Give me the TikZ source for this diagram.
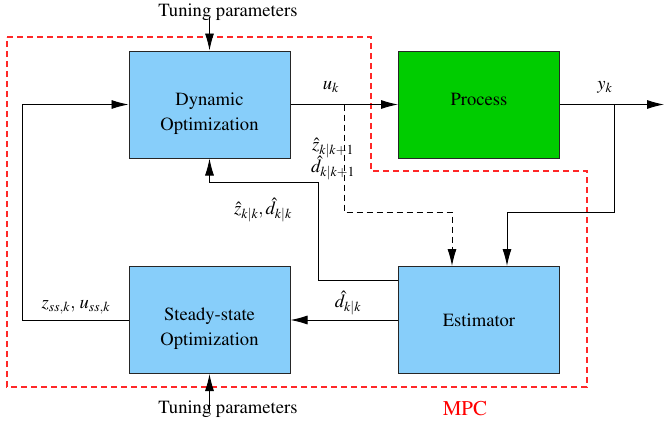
\documentclass[tikz,border=0pt]{standalone}
\usepackage[T1]{fontenc}
\usepackage{mathptmx}
\usetikzlibrary{arrows.meta}
\definecolor{boxblue}{HTML}{87CEFA}
\definecolor{procgreen}{HTML}{00CC00}
\definecolor{mpcline}{RGB}{255,40,40}
\begin{document}
\begin{tikzpicture}[x=1pt,y=-1pt,
  every node/.style={font=\fontsize{18.6}{25}\selectfont},
  blk/.style={draw=black!85,line width=1pt,fill=boxblue,minimum width=161pt,minimum height=107pt,inner sep=0pt},
  conn/.style={line width=0.9pt,-{Latex[length=17pt,width=9pt]}},
  lab/.style={inner sep=0pt},
  btxt/.style={inner sep=0pt,anchor=base},
  mpcbox/.style={color=mpcline,line width=1.2pt,dash pattern=on 6pt off 4pt}]
\useasboundingbox (0,0) rectangle (664,423);
% MPC region
\draw[mpcbox] (7,37) -- (371,37) -- (371,171) -- (587,171) -- (587,387) -- (7,387) -- cycle;
\node[lab,text=red,font=\fontsize{21}{25}\selectfont] (mpc) at (465,408) {MPC};
% blocks
\node[blk] (dyn) at (209.5,104.5) {};
\node[blk,fill=procgreen] (proc) at (479,104.5) {};
\node[blk] (ss) at (209.5,320) {};
\node[blk] (est) at (479,320) {};
\node[btxt] (dyn1) at (209.5,105) {Dynamic};
\node[btxt] (dyn2) at (209.5,130) {Optimization};
\node[btxt] (proct) at (479,105) {Process};
\node[btxt] (ss1) at (209.5,320) {Steady-state};
\node[btxt] (ss2) at (209.5,345) {Optimization};
\node[btxt] (estt) at (479,326) {Estimator};
% tuning parameters
\node[lab] (tp1) at (228,12) {Tuning parameters};
\node[lab] (tp2) at (228,409) {Tuning parameters};
\coordinate (t1) at (209.5,17);
\coordinate (t2) at (209.5,412);
\draw[conn] (t1) -- (dyn.north);
\draw[conn] (t2) -- (ss.south);
% u_k
\draw[conn] (dyn.east) -- (proc.west);
\node[lab] (uk) at (331,87) {$u_k$};
% y_k
\coordinate (yend) at (664,104.5);
\draw[conn] (proc.east) -- (yend);
\node[lab] (yk) at (605,87) {$y_k$};
\coordinate (yb) at (614,104.5);
\coordinate (ya) at (507,212);
\draw[conn] (yb) |- (ya) -- (ya |- est.north);
% dashed predictions
\coordinate (ub) at (344,104.5);
\coordinate (ua) at (452,212);
\draw[conn,dash pattern=on 6pt off 4pt] (ub) |- (ua) -- (ua |- est.north);
\node[lab] (zp) at (333,148) {$\hat{z}_{k|k+1}$};
\node[lab] (dp) at (333,168) {$\hat{d}_{k|k+1}$};
% estimator to dynamic
\coordinate (e1) at (398,280);
\coordinate (e2) at (318,182);
\draw[conn] (e1) -| (e2) -| (dyn.south);
\node[lab] (zd) at (263,210) {$\hat{z}_{k|k},\hat{d}_{k|k}$};
% estimator to steady-state
\draw[conn] (est.west) -- (ss.east);
\node[lab] (dk) at (348,303) {$\hat{d}_{k|k}$};
% steady-state to dynamic
\coordinate (s1) at (22,320);
\draw[conn] (ss.west) -- (s1) |- (dyn.west);
\node[lab] (zs) at (76,307) {$z_{ss,k},\,u_{ss,k}$};
\end{tikzpicture}
\end{document}
